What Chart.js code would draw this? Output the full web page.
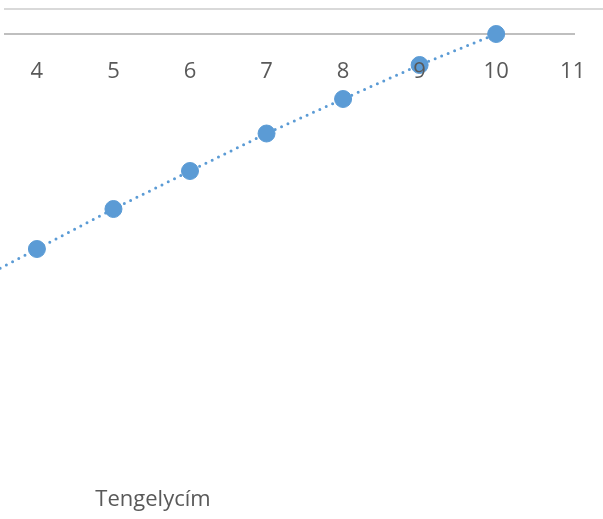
<!DOCTYPE html>
<html>
<head>
<meta charset="utf-8">
<script src="https://cdn.jsdelivr.net/npm/chart.js@4"></script>
<style>
  html, body { margin: 0; padding: 0; background: #fff; }
  #wrap { width: 603px; height: 519px; }
</style>
</head>
<body>
<div id="wrap"><canvas id="myChart"></canvas></div>
<script>
// values
const xValues = [4, 5, 6, 7, 8, 9, 10];
const yValues = [-8.6, -7.0, -5.48, -3.98, -2.6, -1.24, 0];
// where the dotted trend starts on the left (backward forecast)
const trendStartX = 3.52;
const trendStartY = -9.37;
const axisTitle = 'Tengelycím';

const points = xValues.map((x, i) => ({ x: x, y: yValues[i] }));
const trendPoints = [{ x: trendStartX, y: trendStartY }].concat(points);

// top border line, axis line and axis title (Excel leftovers)
const extras = {
    id: 'extras',
    beforeDatasetsDraw(chart) {
        const ctx = chart.ctx;
        const area = chart.chartArea;
        const yTop = chart.scales.y.getPixelForValue(1);
        const yAxis = chart.scales.y.getPixelForValue(0);
        ctx.save();
        ctx.lineWidth = 2;
        ctx.strokeStyle = '#d9d9d9';
        ctx.beginPath();
        ctx.moveTo(area.left, yTop);
        ctx.lineTo(chart.width, yTop);
        ctx.stroke();
        ctx.strokeStyle = '#bfbfbf';
        ctx.beginPath();
        ctx.moveTo(area.left, yAxis);
        ctx.lineTo(area.right, yAxis);
        ctx.stroke();
        ctx.restore();
    },
    afterDraw(chart) {
        const ctx = chart.ctx;
        ctx.save();
        ctx.fillStyle = '#595959';
        ctx.font = '22px "Open Sans"';
        ctx.textAlign = 'center';
        ctx.textBaseline = 'alphabetic';
        ctx.fillText(axisTitle, 153, 506);
        ctx.restore();
    }
};

let myChart = document.getElementById('myChart').getContext('2d');

let chart1 = new Chart(myChart, {
    type: 'scatter',
    data: {
        datasets: [{
            label: 'Adatsor',
            data: points,
            backgroundColor: '#5b9bd5',
            borderColor: '#5b9bd5',
            borderWidth: 1,
            pointRadius: 8.5,
            pointHoverRadius: 8.5,
            clip: false,
            order: 0
        }, {
            label: 'Trend',
            type: 'line',
            data: trendPoints,
            showLine: true,
            fill: false,
            borderColor: '#5b9bd5',
            borderWidth: 3,
            borderDash: [0, 7],
            borderCapStyle: 'round',
            pointRadius: 0,
            pointHoverRadius: 0,
            clip: false,
            order: 1
        }]
    },
    options: {
        responsive: true,
        maintainAspectRatio: false,
        animation: false,
        layout: {
            autoPadding: false,
            padding: { left: 4, right: 28, top: 9, bottom: 10 }
        },
        plugins: {
            legend: { display: false },
            tooltip: { enabled: false },
            title: { display: false }
        },
        scales: {
            x: {
                type: 'linear',
                position: { y: 0 },
                min: 3.57,
                max: 11.03,
                grid: {
                    display: true,
                    drawOnChartArea: false,
                    drawTicks: true,
                    tickLength: 25,
                    color: 'rgba(0,0,0,0)',
                    tickColor: 'rgba(0,0,0,0)'
                },
                border: { display: false },
                ticks: {
                    z: 1,
                    stepSize: 1,
                    includeBounds: false,
                    color: '#595959',
                    padding: 0,
                    maxRotation: 0,
                    font: { family: '"Open Sans"', size: 22 }
                }
            },
            y: {
                type: 'linear',
                display: false,
                min: -19,
                max: 1
            }
        }
    },
    plugins: [extras]
});
</script>
</body>
</html>
